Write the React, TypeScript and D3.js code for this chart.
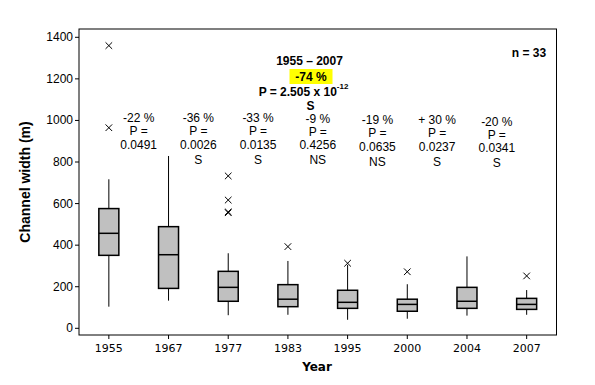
import React from 'react';
import * as d3 from 'd3';

const years = ['1955', '1967', '1977', '1983', '1995', '2000', '2004', '2007'];
const whiskerLow = [104, 133, 63, 65, 41, 46, 61, 65];
const q1 = [351, 192, 130, 104, 96, 82, 96, 91];
const median = [457, 354, 197, 140, 125, 115, 130, 115];
const q3 = [576, 489, 274, 210, 183, 140, 197, 144];
const whiskerHigh = [717, 829, 361, 324, 305, 212, 346, 184];
const outliers = [[1360, 965], [], [733, 617, 556, 560], [393], [313], [272], [], [252]];

const yTicks = [0, 200, 400, 600, 800, 1000, 1200, 1400];

// annotations between consecutive years
const pctLabels = ['-22 %', '-36 %', '-33 %', '-9 %', '-19 %', '+ 30 %', '-20 %'];
const pValues = ['0.0491', '0.0026', '0.0135', '0.4256', '0.0635', '0.0237', '0.0341'];
const sigLabels = ['', 'S', 'S', 'NS', 'NS', 'S', 'S'];

const WIDTH = 595;
const HEIGHT = 385;
const PLOT = { left: 79, right: 556.5, top: 29, bottom: 335 };
const ANNOT_Y = [118, 118, 118, 118.5, 120, 120, 121.5];
const BOX_W = 20;
const ARIAL = 'Liberation Sans, Arial, sans-serif';
const DEJAVU = 'DejaVu Sans, Verdana, sans-serif';

export default function App() {
  const x = d3.scaleBand().domain(years).range([PLOT.left, PLOT.right]);
  const y = d3.scaleLinear().domain([0, 1400]).range([328.3, 37.3]);
  const cx = (i: number) => (x(years[i]) ?? 0) + x.bandwidth() / 2;

  const boxes = years.map((yr, i) => {
    const c = cx(i);
    return (
      <g key={yr}>
        <line x1={c} x2={c} y1={y(whiskerHigh[i])} y2={y(q3[i])} stroke="#000" strokeWidth={1} />
        <line x1={c} x2={c} y1={y(q1[i])} y2={y(whiskerLow[i])} stroke="#000" strokeWidth={1} />
        <rect
          x={c - BOX_W / 2}
          y={y(q3[i])}
          width={BOX_W}
          height={y(q1[i]) - y(q3[i])}
          fill="#c0c0c0"
          stroke="#000"
          strokeWidth={1.5}
        />
        <line x1={c - BOX_W / 2} x2={c + BOX_W / 2} y1={y(median[i])} y2={y(median[i])} stroke="#000" strokeWidth={1.5} />
        {outliers[i].map((v, j) => {
          const py = y(v);
          const s = 3.3;
          return (
            <path
              key={j}
              d={`M${c - s},${py - s}L${c + s},${py + s}M${c - s},${py + s}L${c + s},${py - s}`}
              stroke="#000"
              strokeWidth={1}
            />
          );
        })}
      </g>
    );
  });

  const annotations = pctLabels.map((p, i) => {
    const ax = (cx(i) + cx(i + 1)) / 2;
    const ay = ANNOT_Y[i];
    return (
      <g key={i} fontFamily={ARIAL} fontSize={12} textAnchor="middle">
        <text x={ax} y={ay} dominantBaseline="central">{p}</text>
        <text x={ax} y={ay + 13} dominantBaseline="central">P =</text>
        <text x={ax} y={ay + 26.5} dominantBaseline="central">{pValues[i]}</text>
        {sigLabels[i] && (
          <text x={ax} y={ay + 41.5} dominantBaseline="central">{sigLabels[i]}</text>
        )}
      </g>
    );
  });

  return (
    <svg width={WIDTH} height={HEIGHT} style={{ position: 'absolute', left: 0, top: 0, background: '#fff' }}>
      <rect x={0} y={0} width={WIDTH} height={HEIGHT} fill="#fff" />
      <rect
        x={PLOT.left}
        y={PLOT.top}
        width={PLOT.right - PLOT.left}
        height={PLOT.bottom - PLOT.top}
        fill="none"
        stroke="#000"
        strokeWidth={1}
      />
      {yTicks.map((t) => (
        <g key={t}>
          <line x1={PLOT.left - 4} x2={PLOT.left} y1={y(t)} y2={y(t)} stroke="#000" />
          <text x={PLOT.left - 6} y={y(t)} textAnchor="end" dominantBaseline="central" fontFamily={ARIAL} fontSize={12}>
            {t}
          </text>
        </g>
      ))}
      {years.map((yr, i) => (
        <g key={yr}>
          <line x1={cx(i)} x2={cx(i)} y1={PLOT.bottom} y2={PLOT.bottom + 4} stroke="#000" />
          <text x={cx(i)} y={348} textAnchor="middle" dominantBaseline="central" fontFamily={DEJAVU} fontSize={11}>
            {yr}
          </text>
        </g>
      ))}
      {boxes}
      {annotations}

      <g fontFamily={ARIAL} fontSize={12} fontWeight="bold" textAnchor="middle">
        <text x={309.5} y={61} dominantBaseline="central">1955 – 2007</text>
        <rect x={289.5} y={69} width={43} height={15} fill="#ffff00" />
        <text x={311} y={76.5} dominantBaseline="central">-74 %</text>
        <text x={303.5} y={92} dominantBaseline="central">
          P = 2.505 x 10<tspan fontSize={8} dy={-6}>-12</tspan>
        </text>
        <text x={310.5} y={105.5} dominantBaseline="central">S</text>
        <text x={529} y={52.7} dominantBaseline="central">n = 33</text>
      </g>

      <text
        transform="translate(25,182) rotate(-90)"
        textAnchor="middle"
        dominantBaseline="central"
        fontFamily={ARIAL}
        fontSize={14}
        fontWeight="bold"
      >
        Channel width (m)
      </text>
      <text x={317} y={367} textAnchor="middle" dominantBaseline="central" fontFamily={DEJAVU} fontSize={12} fontWeight="bold">
        Year
      </text>
    </svg>
  );
}
